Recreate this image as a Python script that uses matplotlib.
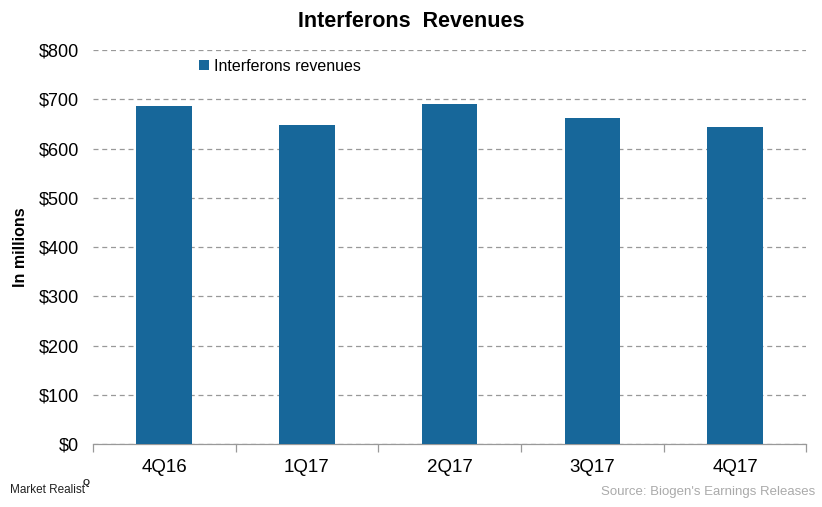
import matplotlib.pyplot as plt
import numpy as np

plt.rcParams['font.family'] = ['Liberation Sans', 'DejaVu Sans']

# Data (in millions)
quarters = ['4Q16', '1Q17', '2Q17', '3Q17', '4Q17']
revenues = [686, 648, 691, 662, 644]
yticks = [0, 100, 200, 300, 400, 500, 600, 700, 800]

bar_color = '#17679A'

fig = plt.figure(figsize=(8.22, 5.07), dpi=100)
ax = fig.add_axes([0.113, 0.124, 0.868, 0.777])

x = np.arange(len(quarters))
ax.bar(x, revenues, width=0.39, color=bar_color, label='Interferons revenues', zorder=3)

ax.set_xlim(-0.5, len(quarters) - 0.5)
ax.set_ylim(0, 800)
ax.set_yticks(yticks)
ax.set_yticklabels(['$%d' % v for v in yticks], fontsize=13)
ax.yaxis.grid(True, linestyle=(0, (4, 3)), color='#999999', linewidth=0.9, zorder=0)
ax.tick_params(axis='y', length=0, pad=10)

# category labels, with separator ticks between categories
ax.set_xticks(x)
ax.set_xticklabels(quarters, fontsize=13.5)
ax.tick_params(axis='x', length=0, pad=11)
ax.set_xticks(np.arange(len(quarters) + 1) - 0.5, minor=True)
ax.tick_params(axis='x', which='minor', length=6, color='#999999', width=0.9)

for s in ['left', 'right', 'top']:
    ax.spines[s].set_visible(False)
ax.spines['bottom'].set_color('#999999')
ax.spines['bottom'].set_linewidth(0.9)

ax.set_ylabel('In millions', fontsize=11.5, fontweight='bold', labelpad=8)

fig.text(0.5, 0.958, 'Interferons  Revenues', ha='center', va='center',
         fontsize=15.5, fontweight='bold')

ax.legend(loc='upper left', bbox_to_anchor=(0.14, 0.995), frameon=False,
          fontsize=11.5, handlelength=0.6, handleheight=0.6, handletextpad=0.3,
          borderaxespad=0)

fig.text(0.012, 0.033, 'Market Realist', ha='left', va='center',
         fontsize=8.5, color='#222222')
fig.text(0.101, 0.048, 'Q', ha='left', va='center',
         fontsize=6.5, color='#222222', fontweight='bold')
fig.text(0.992, 0.030, "Source: Biogen's Earnings Releases", ha='right', va='center',
         fontsize=9.5, color='#aaaaaa')

fig.savefig('out.png', dpi=100)
